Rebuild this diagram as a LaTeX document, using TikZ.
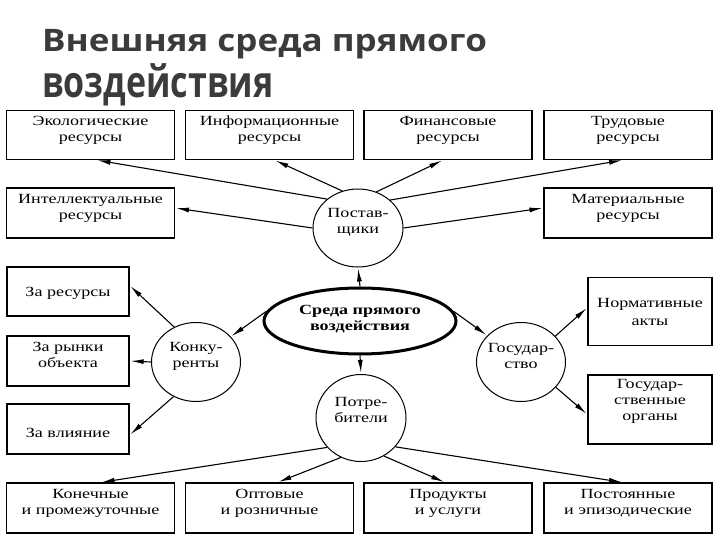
\documentclass[tikz,border=0pt]{standalone}
\usepackage{fontspec}
\usepackage{graphicx}
\setmainfont{Liberation Serif}[FakeStretch=1.29]
\newfontfamily\titlefont{Open Sans}[FakeStretch=1.13]
\usetikzlibrary{arrows.meta,shapes.geometric,calc}
\definecolor{titlegray}{HTML}{3B3B3B}
\begin{document}
\begin{tikzpicture}[x=1pt,y=-1pt,
  every node/.style={font=\fontsize{14pt}{16pt}\selectfont, align=center, inner sep=0pt},
  box/.style={draw, line width=1.2pt, rectangle},
  cbox/.style={box, minimum width=168pt, minimum height=49pt},
  lbox/.style={box, minimum width=122pt, minimum height=49pt},
  rbox/.style={box, minimum width=124pt, minimum height=68pt},
  circ/.style={draw, line width=1pt, ellipse, minimum width=89pt, minimum height=79pt},
  arr/.style={-{Latex[length=13pt,width=5pt]}, line width=1.1pt, shorten >=1pt},
  ttl/.style={font=\titlefont\bfseries\fontsize{31pt}{36pt}\selectfont, text=titlegray, anchor=base west}
]
\useasboundingbox (0,0) rectangle (720,540);
\fill[white] (0,0) rectangle (720,540);

% title
\node[ttl] (t1) at (42,52) {Внешняя среда прямого};
\node[ttl] (t2) at (42,98) {\scalebox{0.97}[1.4]{воздействия}};

% top row
\node[cbox] (eco) at (90.5,135) {};
\node[cbox] (inf) at (269.5,135) {};
\node[cbox] (fin) at (448,135) {};
\node[cbox] (tru) at (628,135) {};
\node (ecot) at ([yshift=5pt]eco.center) {Экологические\\ресурсы};
\node (inft) at ([yshift=5pt]inf.center) {Информационные\\ресурсы};
\node (fint) at ([yshift=5pt]fin.center) {Финансовые\\ресурсы};
\node (trut) at ([yshift=5pt]tru.center) {Трудовые\\ресурсы};
% second row
\node[cbox, minimum height=50pt] (int) at (90.5,213) {};
\node[cbox, minimum height=50pt] (mat) at (628,213) {};
\node (intt) at ([yshift=5pt]int.center) {Интеллектуальные\\ресурсы};
\node (matt) at ([yshift=5pt]mat.center) {Материальные\\ресурсы};

% left column
\node[lbox] (zr) at (68,291.5) {};
\node[lbox, minimum height=50pt] (zm) at (68,361) {};
\node[lbox, minimum height=50pt] (zv) at (68,429) {};
\node (zrt) at ([yshift=-2pt]zr.center) {За ресурсы};
\node (zmt) at ([yshift=6pt]zm.center) {За рынки\\объекта};
\node (zvt) at ([yshift=-4pt]zv.center) {За влияние};

% right column
\node[rbox] (norm) at (650,311.5) {};
\node[rbox, minimum height=69pt] (gorg) at (650,409.5) {};
\node (normt) at (norm.center) {Нормативные\\[2pt]акты};
\node (gorgt) at ([yshift=8pt]gorg.center) {Государ-\\ственные\\органы};

% bottom row
\node[cbox, minimum height=50pt] (kon) at (90.5,508) {};
\node[cbox, minimum height=50pt] (opt) at (269.5,508) {};
\node[cbox, minimum height=50pt] (pro) at (448,508) {};
\node[cbox, minimum height=50pt] (pos) at (628,508) {};
\node (kont) at ([yshift=5pt]kon.center) {Конечные\\и промежуточные};
\node (optt) at ([yshift=5pt]opt.center) {Оптовые\\и розничные};
\node (prot) at ([yshift=5pt]pro.center) {Продукты\\и услуги};
\node (post2) at ([yshift=5pt]pos.center) {Постоянные\\и эпизодические};

% circles
\node[circ, minimum width=90pt, minimum height=78pt] (post) at (358,228) {};
\node[circ] (konk) at (196,362) {};
\node[circ] (gos) at (521,362) {};
\node[circ, minimum width=90pt, minimum height=87pt] (potr) at (361,418) {};
\node (postt) at ([yshift=6pt]post.center) {Постав-\\щики};
\node (konkt) at ([yshift=6pt]konk.center) {Конку-\\ренты};
\node (gost) at ([yshift=6pt]gos.center) {Государ-\\ство};
\node (potrt) at ([yshift=8pt]potr.center) {Потре-\\бители};

% centre
\node[draw, ellipse, line width=3pt, minimum width=192pt, minimum height=66pt] (cent) at (360,321) {};
\node (centt) at ([yshift=2pt]cent.center) {\bfseries Среда прямого\\\bfseries воздействия};

% central to circles
\draw[arr] (cent.north) -- (post.south);
\draw[arr] (cent.south) -- (potr.north);
\draw[arr] (cent.174) -- (konk.36);
\draw[arr] (cent.6) -- (gos.142);

% suppliers
\draw[arr] (post.137) -- ([xshift=6pt]eco.south);
\draw[arr] (post.113) -- ([xshift=5pt]inf.south);
\draw[arr] (post.63) -- ([xshift=-5pt]fin.south);
\draw[arr] (post.41) -- ([xshift=-5pt]tru.south);
\draw[arr] (post.180) -- ([yshift=5pt]int.east);
\draw[arr] (post.0) -- ([yshift=5pt]mat.west);

% competitors
\draw[arr] (konk.122) -- ([yshift=6pt]zr.east);
\draw[arr] (konk.180) -- (zm.east);
\draw[arr] (konk.237) -- ([yshift=-6pt]zv.east);

% state
\draw[arr] (gos.37) -- ([yshift=4pt]norm.west);
\draw[arr] (gos.-36) -- ([yshift=-5pt]gorg.west);

% consumers
\draw[arr] (potr.221) -- ([xshift=10pt]kon.north);
\draw[arr] (potr.243) -- ([xshift=8pt]opt.north);
\draw[arr] (potr.301) -- ([xshift=-3pt]pro.north);
\draw[arr] (potr.320) -- ([xshift=-5pt]pos.north);
\end{tikzpicture}
\end{document}
